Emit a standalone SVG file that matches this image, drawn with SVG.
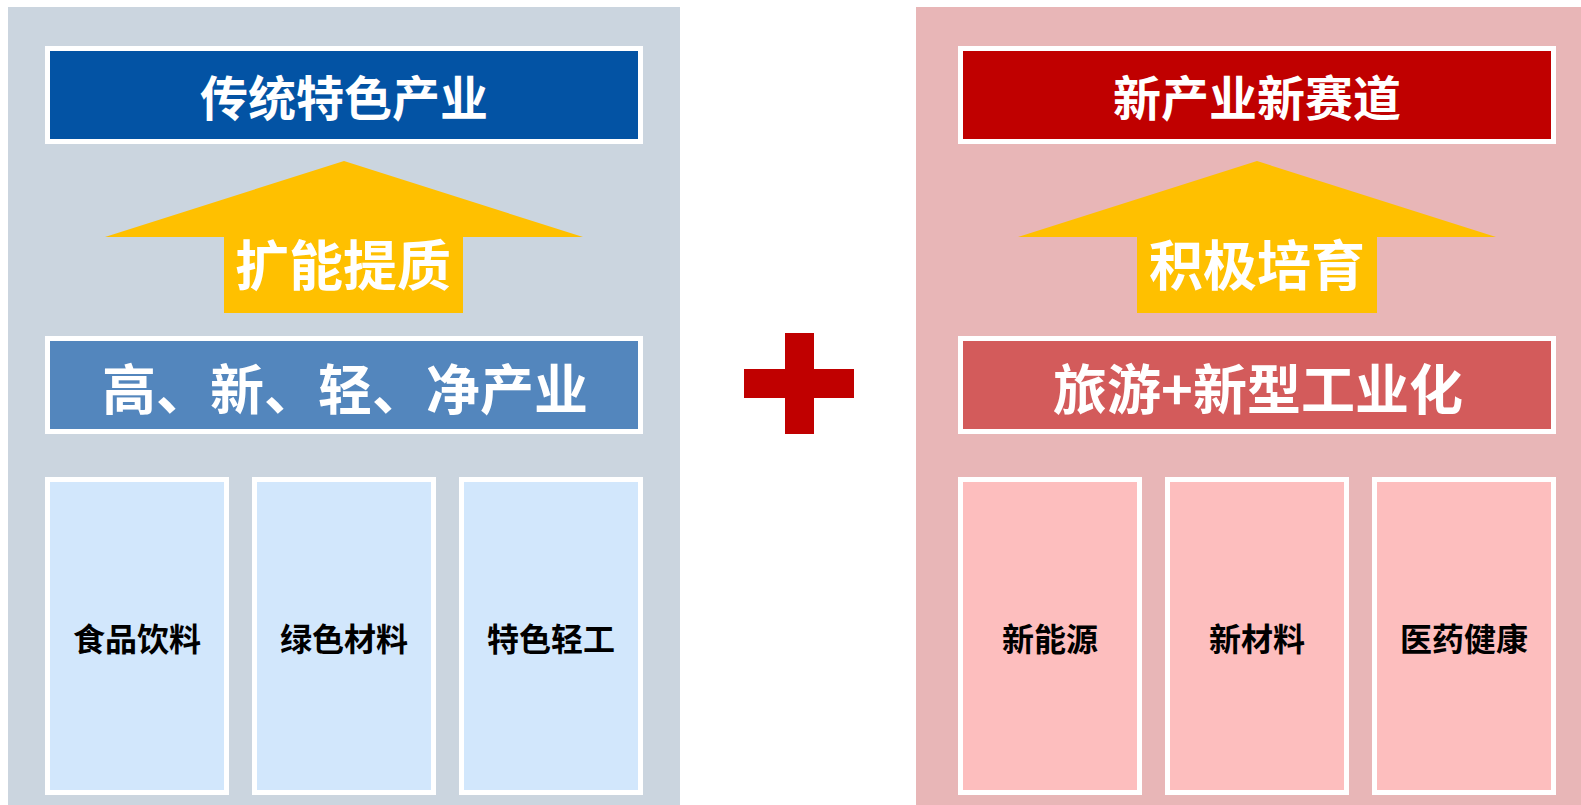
<svg xmlns="http://www.w3.org/2000/svg" width="1581" height="805" viewBox="0 0 1581 805">
<style>
text{font-family:"Noto Sans CJK SC","Noto Sans",sans-serif;font-weight:bold;text-anchor:middle;dominant-baseline:central}
.w{fill:#FFFFFF}
.k{fill:#000000;font-size:32px}
.box{stroke:#FFFFFF;stroke-width:5}
.arrow{fill:#FFC000}
</style>
<rect x="0" y="0" width="1581" height="805" fill="#FFFFFF"/>
<g id="left-panel">
<rect x="8" y="7" width="672" height="798" fill="#CBD5DF"/>
</g>
<g id="right-panel">
<rect x="916" y="7" width="665" height="798" fill="#E8B6B7"/>
</g>
<g id="node-traditional">
<rect class="box" x="47.5" y="48.5" width="593" height="93" fill="#0353A4"/>
<text class="w" x="344" y="95" font-size="48">传统特色产业</text>
</g>
<g id="node-arrow-left">
<polygon class="arrow" points="344,161 583,237 463,237 463,313 224,313 224,237 105,237"/>
<text class="w" x="343" y="262" font-size="54">扩能提质</text>
</g>
<g id="node-gaoxin">
<rect class="box" x="47.5" y="338.5" width="593" height="93" fill="#5386BD"/>
<text class="w" x="345" y="386" font-size="54">高、新、轻、净产业</text>
</g>
<g id="node-food">
<rect class="box" x="47.5" y="479.5" width="179" height="313" fill="#D2E7FC"/>
<text class="k" x="137" y="637">食品饮料</text>
</g>
<g id="node-green">
<rect class="box" x="254.5" y="479.5" width="179" height="313" fill="#D2E7FC"/>
<text class="k" x="344" y="637">绿色材料</text>
</g>
<g id="node-light">
<rect class="box" x="461.5" y="479.5" width="179" height="313" fill="#D2E7FC"/>
<text class="k" x="551" y="637">特色轻工</text>
</g>
<g id="node-plus">
<rect x="744" y="369" width="110" height="29" fill="#C00000"/>
<rect x="785" y="333" width="29" height="101" fill="#C00000"/>
</g>
<g id="node-newindustry">
<rect class="box" x="960.5" y="48.5" width="593" height="93" fill="#C00000"/>
<text class="w" x="1257" y="95" font-size="48">新产业新赛道</text>
</g>
<g id="node-arrow-right">
<polygon class="arrow" points="1257,161 1496,237 1377,237 1377,313 1137,313 1137,237 1018,237"/>
<text class="w" x="1257" y="262" font-size="54">积极培育</text>
</g>
<g id="node-tourism">
<rect class="box" x="960.5" y="338.5" width="593" height="93" fill="#D35B5B"/>
<text class="w" x="1258" y="386" font-size="54">旅游+新型工业化</text>
</g>
<g id="node-energy">
<rect class="box" x="960.5" y="479.5" width="179" height="313" fill="#FDBEBE"/>
<text class="k" x="1050" y="637">新能源</text>
</g>
<g id="node-material">
<rect class="box" x="1167.5" y="479.5" width="179" height="313" fill="#FDBEBE"/>
<text class="k" x="1257" y="637">新材料</text>
</g>
<g id="node-health">
<rect class="box" x="1374.5" y="479.5" width="179" height="313" fill="#FDBEBE"/>
<text class="k" x="1464" y="637">医药健康</text>
</g>
<g id="connectors"></g>
</svg>
